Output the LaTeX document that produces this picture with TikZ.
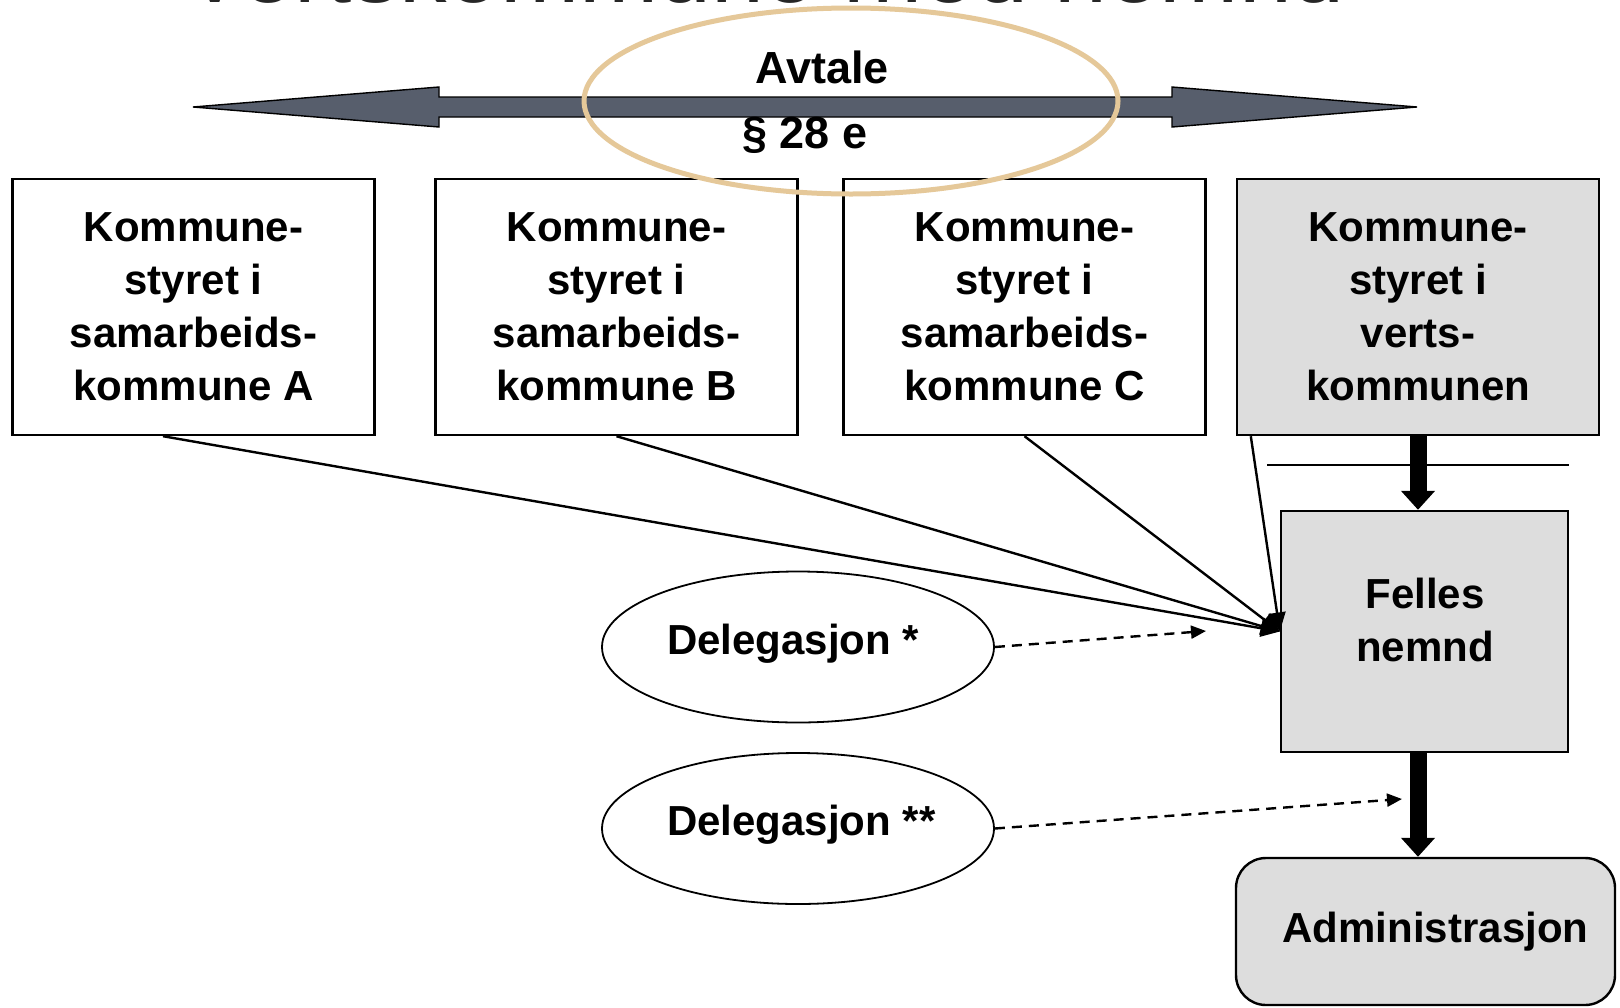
\documentclass[tikz,border=0pt]{standalone}
\usepackage{fontspec}
\setmainfont{Liberation Sans}
\usetikzlibrary{arrows.meta,shapes.geometric,calc}
\definecolor{boxgray}{HTML}{DDDDDD}
\definecolor{slate}{HTML}{575E6C}
\definecolor{tanline}{HTML}{E5C899}
\begin{document}
\begin{tikzpicture}[x=1pt,y=-1pt,
  txt/.style={font=\fontsize{42}{53}\selectfont\bfseries, align=center, inner sep=0pt},
  kbox/.style={txt, draw, line width=2.4pt, minimum width=362pt, minimum height=256pt},
  grayfill/.style={fill=boxgray},
  deleg/.style={ellipse, draw, line width=1.8pt, minimum width=392pt, minimum height=151pt, inner sep=0pt},
  conn/.style={line width=2.4pt, -{Triangle[length=19pt,width=17pt]}},
  dashconn/.style={line width=2.4pt, dash pattern=on 10pt off 7pt, -{Triangle[length=15pt,width=13pt]}},
  thick arrow/.style={line width=17pt, -{Triangle[length=19pt,width=33pt]}}
]
\useasboundingbox (0,0) rectangle (1620,1007);
\clip (0,0) rectangle (1620,1007);
\fill[white] (0,0) rectangle (1620,1007);

% cut-off title
\node[anchor=base west, inner sep=0pt, text=black!85, font=\fontsize{95}{100}\selectfont] (title) at (183,2) {Vertskommune med nemnd};

% double arrow of the agreement
\draw[fill=slate, line width=1.4pt] (193,107) -- (439,87) -- (439,97) -- (1172,97) -- (1172,87)
  -- (1417,107) -- (1172,127) -- (1172,117) -- (439,117) -- (439,127) -- cycle;

% municipality boxes
\node[kbox, fill=white] (A) at (193.5,307) {Kommune-\\styret i\\samarbeids-\\kommune A};
\node[kbox, fill=white] (B) at (616.5,307) {Kommune-\\styret i\\samarbeids-\\kommune B};
\node[kbox, fill=white] (C) at (1024.5,307) {Kommune-\\styret i\\samarbeids-\\kommune C};
\node[kbox, grayfill] (D) at (1418,307) {Kommune-\\styret i\\verts-\\kommunen};

% agreement ellipse and texts
\node[ellipse, draw=tanline, line width=5pt, minimum width=534pt, minimum height=186pt, inner sep=0pt] (avtale) at (851,101) {};
\node[txt, font=\fontsize{45}{50}\selectfont\bfseries, anchor=base] (avt) at (822,83) {Avtale};
\node[txt, font=\fontsize{45}{50}\selectfont\bfseries, anchor=base] (par) at (805,148) {§ 28 e};

% felles nemnd and administrasjon
\node[txt, draw, grayfill, line width=2.4pt, minimum width=287pt, minimum height=241pt] (felles) at (1424.5,631.5) {};
\node[txt] (fellestxt) at (1425,620) {Felles\\nemnd};
\node[draw, grayfill, line width=2.4pt, rounded corners=30pt, minimum width=379pt, minimum height=147pt, inner sep=0pt] (admin) at (1425.5,931.5) {};
\node[txt, anchor=base] (admintxt) at (1435.5,942) {Administrasjon};

% horizontal line
\coordinate (hl1) at (1267,465);
\coordinate (hl2) at (1569,465);
\draw[line width=2.4pt] (hl1) -- (hl2);

% thick arrows
\draw[thick arrow] (D.south) -- (D.south |- felles.north);
\draw[thick arrow] (D.south |- felles.south) -- (D.south |- admin.north);

% connectors into felles nemnd
\draw[conn] ([xshift=-30.5pt]A.south) -- (felles.west);
\draw[conn] (B.south) -- (felles.west);
\draw[conn] (C.south) -- (felles.west);
\draw[conn] ([xshift=15pt]D.south west) -- (felles.west);

% delegation ellipses
\node[deleg] (del1) at (798,647) {};
\node[txt, anchor=base west] (del1t) at (667,654) {Delegasjon *};
\node[deleg] (del2) at (798,828.5) {};
\node[txt, anchor=base west] (del2t) at (667,835) {Delegasjon **};

\coordinate (d1end) at (1206,631);
\coordinate (d2end) at (1402,799);
\draw[dashconn] (del1.east) -- (d1end);
\draw[dashconn] (del2.east) -- (d2end);
\end{tikzpicture}
\end{document}
